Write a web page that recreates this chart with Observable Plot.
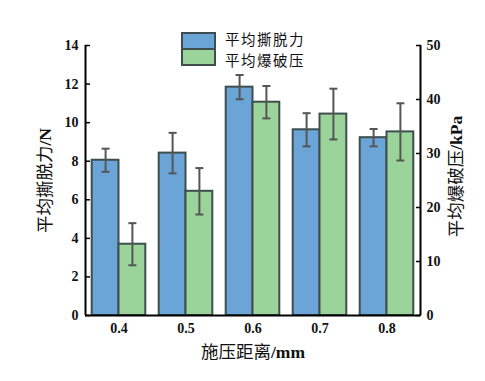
<!DOCTYPE html>
<html>
<head>
<meta charset="utf-8">
<script src="https://cdn.jsdelivr.net/npm/d3@7"></script>
<script src="https://cdn.jsdelivr.net/npm/@observablehq/plot@0.6"></script>
<style>
  body { margin: 0; background: #fff; }
  #wrap { position: relative; width: 485px; height: 381px; }
  .leg { position: absolute; font-family: "Noto Sans CJK SC", sans-serif; font-size: 14.5px; letter-spacing: 1.5px; color: #111; line-height: 1; }
  .sw { position: absolute; box-sizing: border-box; border: 2px solid #3e4e4e; }
</style>
</head>
<body>
<div id="wrap"></div>
<script>
// ---- data ----
const distances = [0.4, 0.5, 0.6, 0.7, 0.8];           // 施压距离/mm
const peelForce = [8.05, 8.42, 11.84, 9.63, 9.22];      // 平均撕脱力/N
const peelErr   = [0.60, 1.05, 0.63, 0.86, 0.45];
const burstPressure = [13.2, 23.0, 39.5, 37.3, 34.0];   // 平均爆破压/kPa
const burstErr      = [3.9, 4.3, 3.0, 4.7, 5.3];
const leftTicks  = [0, 2, 4, 6, 8, 10, 12, 14];
const rightTicks = [0, 10, 20, 30, 40, 50];
const seriesNames = ["平均撕脱力", "平均爆破压"];
const leftMax = 14, rightMax = 50;
const k = leftMax / rightMax;  // map kPa onto left scale
const halfBand = 0.04;          // width of one bar in x units

const rows = [];
distances.forEach((d, i) => {
  rows.push({d, s: 0, v: peelForce[i], lo: peelForce[i] - peelErr[i], hi: peelForce[i] + peelErr[i]});
  rows.push({d, s: 1, v: burstPressure[i] * k, lo: (burstPressure[i] - burstErr[i]) * k, hi: (burstPressure[i] + burstErr[i]) * k});
});
const colors = ["#6ba5d7", "#9bd49a"];
const serif = "'Liberation Serif', 'Times New Roman', serif";

const capSymbol = {
  draw(ctx, size) { const w = 4; ctx.moveTo(-w, 0); ctx.lineTo(w, 0); }
};
const cx = r => r.s === 0 ? r.d - halfBand / 2 : r.d + halfBand / 2;

const chart = Plot.plot({
  width: 485,
  height: 381,
  marginLeft: 85,
  marginRight: 65,
  marginTop: 45,
  marginBottom: 66,
  x: {domain: [0.35, 0.85]},
  y: {domain: [0, leftMax]},
  style: {fontFamily: serif, background: "#fff", color: "#111"},
  marks: [
    Plot.rectY(rows, {
      x1: r => r.s === 0 ? r.d - halfBand : r.d,
      x2: r => r.s === 0 ? r.d : r.d + halfBand,
      y: "v",
      fill: r => colors[r.s],
      stroke: "#3e4e4e",
      strokeWidth: 2
    }),
    Plot.ruleX(rows, {x: cx, y1: "lo", y2: "hi", stroke: "#555", strokeWidth: 2}),
    Plot.dot(rows, {x: cx, y: "hi", symbol: capSymbol, stroke: "#555", strokeWidth: 2, r: 4}),
    Plot.dot(rows, {x: cx, y: "lo", symbol: capSymbol, stroke: "#555", strokeWidth: 2, r: 4}),
    Plot.ruleX([0.35, 0.85], {y1: 0, y2: leftMax, stroke: "#000", strokeWidth: 2}),
    Plot.ruleY([0], {stroke: "#000", strokeWidth: 2}),
    Plot.axisY(leftTicks, {anchor: "left", tickSize: -5, tickPadding: 12, label: null,
      fontSize: 14, fontWeight: "bold", stroke: "#000", strokeWidth: 1.5}),
    Plot.axisY(rightTicks.map(v => v * k), {anchor: "right", tickSize: -5, tickPadding: 11, label: null,
      tickFormat: v => String(Math.round(v / k)),
      fontSize: 14, fontWeight: "bold", stroke: "#000", strokeWidth: 1.5}),
    Plot.axisX(distances, {tickSize: 0, tickPadding: 8, label: null,
      tickFormat: d => d.toFixed(1), fontSize: 14, fontWeight: "bold"}),
    Plot.text(["平均撕脱力/N"], {frameAnchor: "left", textAnchor: "middle", dx: -40, rotate: -90, fontSize: 17.5}),
    Plot.text(["平均爆破压/kPa"], {frameAnchor: "right", textAnchor: "middle", dx: 36, dy: -4, rotate: -90, fontSize: 17.5}),
    Plot.text(["施压距离/mm"], {frameAnchor: "bottom", textAnchor: "middle", dy: 42, fontSize: 17.5})
  ]
});

// split titles into CJK (regular) and Latin (bold serif) parts
d3.select(chart).selectAll("text").each(function() {
  const t = this.textContent;
  const idx = t.indexOf("/");
  if (idx > 0 && /[\u4e00-\u9fff]/.test(t)) {
    const el = d3.select(this);
    el.text(null);
    el.append("tspan").attr("font-family", "'Noto Sans CJK SC', sans-serif").attr("font-weight", "normal").text(t.slice(0, idx));
    el.append("tspan").attr("font-family", serif).attr("font-weight", "bold").text(t.slice(idx));
  }
});

const wrap = document.getElementById("wrap");
wrap.appendChild(chart);

// legend
seriesNames.forEach((name, i) => {
  const sw = document.createElement("div");
  sw.className = "sw";
  sw.style.left = "181px";
  sw.style.top = (32 + i * 16) + "px";
  sw.style.width = "35px";
  sw.style.height = "18px";
  sw.style.background = colors[i];
  wrap.appendChild(sw);
  const lb = document.createElement("div");
  lb.className = "leg";
  lb.style.left = "225px";
  lb.style.top = (32 + i * 21) + "px";
  lb.textContent = name;
  wrap.appendChild(lb);
});
</script>
</body>
</html>
